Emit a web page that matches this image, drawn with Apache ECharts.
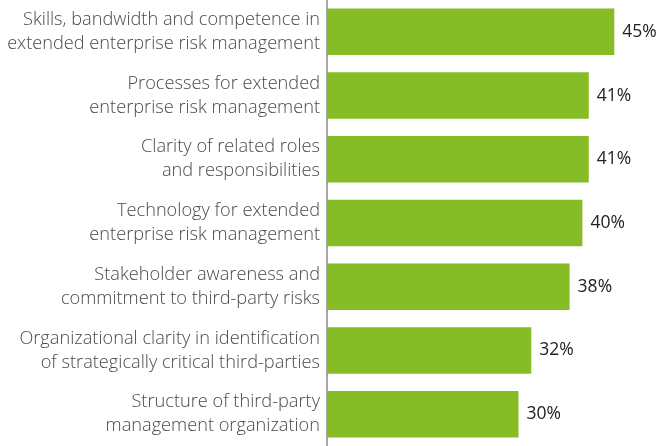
<!DOCTYPE html>
<html>
<head>
<meta charset="utf-8">
<script src="https://cdn.jsdelivr.net/npm/echarts@6/dist/echarts.min.js"></script>
<style>
  html, body { margin: 0; padding: 0; background: #fff; }
  #chart { width: 659px; height: 446px; }
</style>
</head>
<body>
<div id="chart"></div>
<script>
// 类别（从上到下）
var categories = [
  'Skills, bandwidth and competence in\nextended enterprise risk management',
  'Processes for extended\nenterprise risk management',
  'Clarity of related roles\nand responsibilities',
  'Technology for extended\nenterprise risk management',
  'Stakeholder awareness and\ncommitment to third-party risks',
  'Organizational clarity in identification\nof strategically critical third-parties',
  'Structure of third-party\nmanagement organization'
];
var values = [45, 41, 41, 40, 38, 32, 30];

var myChart = echarts.init(document.getElementById('chart'));
var option = {
  animation: false,
  grid: {
    left: 327,
    right: 0,
    top: -1,
    bottom: -6
  },
  xAxis: {
    type: 'value',
    min: 0,
    max: 52,
    show: false
  },
  yAxis: {
    type: 'category',
    inverse: true,
    data: categories,
    axisLine: { show: true, lineStyle: { color: '#8a8a8a', width: 1.5 } },
    axisTick: { show: false },
    axisLabel: {
      margin: 7,
      color: '#4a4a4a',
      fontFamily: 'Open Sans',
      fontWeight: 300,
      fontSize: 18.2,
      lineHeight: 24,
      padding: [3, 0, 0, 0],
      align: 'right'
    }
  },
  series: [{
    type: 'bar',
    data: values,
    barCategoryGap: '27%',
    itemStyle: { color: '#86bc25' },
    label: {
      show: true,
      position: 'right',
      distance: 8,
      formatter: '{c}%',
      color: '#222',
      fontFamily: 'Open Sans',
      fontSize: 17.5
    }
  }]
};
myChart.setOption(option);
</script>
</body>
</html>
